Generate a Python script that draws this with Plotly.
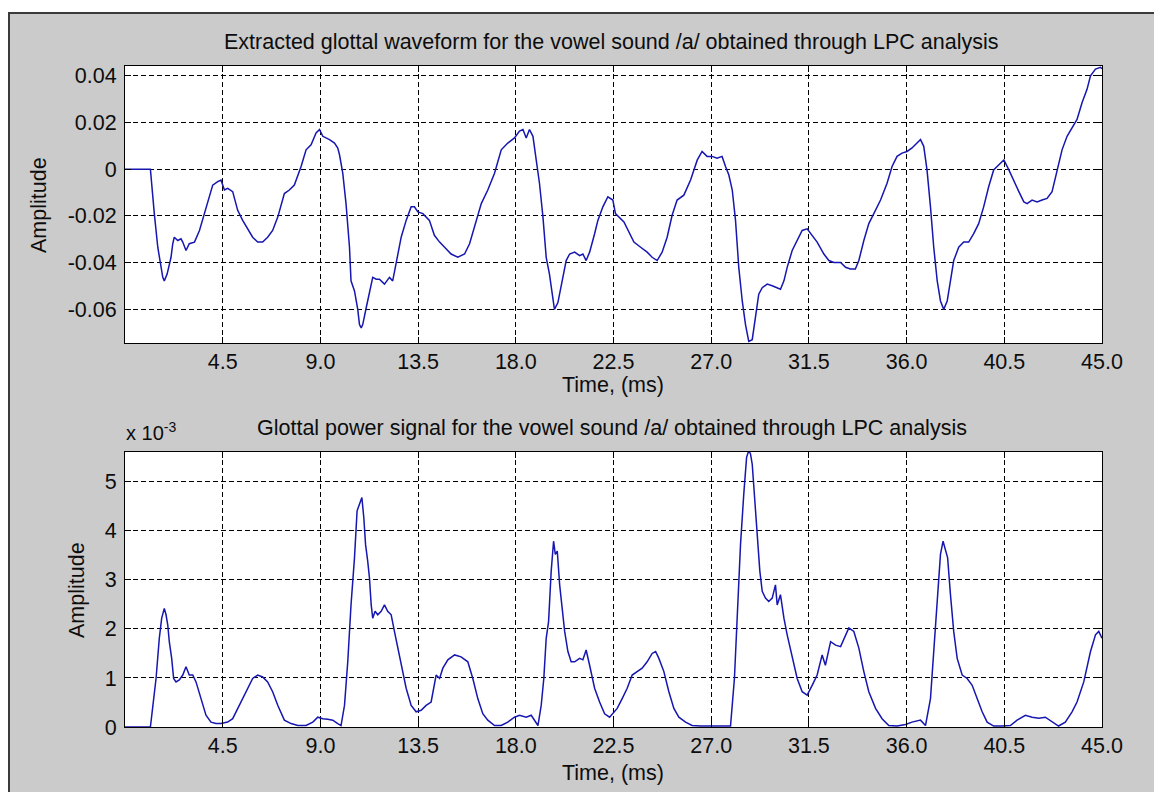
import plotly.graph_objects as go

# ---------------- data ----------------
# Extracted glottal waveform (time in ms, amplitude)
wave_t = [0.0, 1.17, 1.35, 1.51, 1.74, 1.81, 1.94, 2.04, 2.12, 2.20, 2.27, 2.43, 2.58, 2.66, 2.81,
          2.96, 3.20, 3.43, 3.66, 3.81, 4.04, 4.27, 4.42, 4.58, 4.73, 4.96, 5.19, 5.42, 5.65, 5.88,
          6.11, 6.34, 6.57, 6.80, 7.04, 7.34, 7.57, 7.80, 8.11, 8.34, 8.57, 8.80, 8.96, 9.11, 9.26,
          9.42, 9.65, 9.80, 9.88, 10.03, 10.18, 10.34, 10.41, 10.57, 10.72, 10.80, 10.88, 10.95, 11.11,
          11.26, 11.41, 11.57, 11.72, 11.95, 12.18, 12.33, 12.49, 12.72, 12.95, 13.18, 13.33, 13.49,
          13.72, 14.02, 14.25, 14.49, 14.72, 15.02, 15.33, 15.64, 15.87, 16.10, 16.41, 16.71, 17.02,
          17.33, 17.63, 17.94, 18.17, 18.33, 18.48, 18.63, 18.79, 18.94, 19.09, 19.25, 19.40, 19.55,
          19.71, 19.78, 19.94, 20.17, 20.32, 20.48, 20.71, 20.94, 21.09, 21.24, 21.40, 21.63, 21.78,
          22.01, 22.24, 22.47, 22.59, 22.98, 23.21, 23.44, 23.75, 24.05, 24.28, 24.51, 24.74, 24.97,
          25.20, 25.43, 25.74, 26.05, 26.36, 26.58, 26.81, 27.04, 27.27, 27.50, 27.66, 27.81, 27.97,
          28.12, 28.27, 28.43, 28.58, 28.73, 28.89, 29.04, 29.19, 29.35, 29.58, 29.81, 30.04, 30.19,
          30.35, 30.50, 30.73, 30.96, 31.19, 31.42, 31.65, 31.88, 32.19, 32.42, 32.65, 32.96, 33.19,
          33.41, 33.64, 33.80, 34.03, 34.26, 34.49, 34.80, 35.10, 35.33, 35.56, 35.79, 36.02, 36.25,
          36.48, 36.64, 36.79, 36.94, 37.10, 37.25, 37.41, 37.56, 37.71, 37.87, 38.02, 38.17, 38.40,
          38.63, 38.86, 39.09, 39.32, 39.55, 39.78, 40.01, 40.25, 40.48, 40.71, 40.94, 41.17, 41.40,
          41.55, 41.78, 42.01, 42.24, 42.47, 42.70, 42.93, 43.16, 43.39, 43.62, 43.85, 44.08, 44.31,
          44.47, 44.70, 44.93, 45.0]
wave_amp = [0.0, 0.0, -0.0190, -0.0334, -0.0463, -0.0478, -0.0449, -0.0406, -0.0377, -0.0319, -0.0291,
            -0.0305, -0.0298, -0.0312, -0.0348, -0.0319, -0.0312, -0.0262, -0.0190, -0.0132, -0.0068,
            -0.0053, -0.0046, -0.0089, -0.0082, -0.0096, -0.0176, -0.0219, -0.0255, -0.0291, -0.0312,
            -0.0312, -0.0291, -0.0262, -0.0204, -0.0104, -0.0089, -0.0068, 0.0012, 0.0083, 0.0105,
            0.0155, 0.0170, 0.0141, 0.0134, 0.0127, 0.0112, 0.0091, 0.0062, -0.0017, -0.0147, -0.0334,
            -0.0478, -0.0521, -0.0600, -0.0665, -0.0679, -0.0665, -0.0593, -0.0521, -0.0463, -0.0471,
            -0.0471, -0.0492, -0.0463, -0.0478, -0.0406, -0.0291, -0.0219, -0.0161, -0.0161, -0.0183,
            -0.0190, -0.0219, -0.0283, -0.0312, -0.0334, -0.0363, -0.0377, -0.0363, -0.0319, -0.0248,
            -0.0147, -0.0089, -0.0017, 0.0083, 0.0112, 0.0134, 0.0163, 0.0170, 0.0134, 0.0170, 0.0141,
            0.0040, -0.0060, -0.0204, -0.0377, -0.0449, -0.0564, -0.0600, -0.0571, -0.0463, -0.0391,
            -0.0363, -0.0355, -0.0370, -0.0363, -0.0391, -0.0355, -0.0276, -0.0219, -0.0161, -0.0118,
            -0.0132, -0.0190, -0.0226, -0.0269, -0.0312, -0.0334, -0.0355, -0.0377, -0.0391, -0.0355,
            -0.0291, -0.0197, -0.0132, -0.0111, -0.0046, 0.0040, 0.0076, 0.0055, 0.0055, 0.0047, 0.0055,
            0.0012, -0.0024, -0.0089, -0.0219, -0.0420, -0.0564, -0.0665, -0.0737, -0.0730, -0.0636,
            -0.0535, -0.0507, -0.0492, -0.0499, -0.0507, -0.0514, -0.0478, -0.0420, -0.0348, -0.0305,
            -0.0262, -0.0255, -0.0283, -0.0312, -0.0363, -0.0391, -0.0399, -0.0399, -0.0420, -0.0427,
            -0.0427, -0.0391, -0.0305, -0.0233, -0.0190, -0.0132, -0.0060, 0.0012, 0.0055, 0.0069,
            0.0076, 0.0091, 0.0112, 0.0127, 0.0098, -0.0003, -0.0161, -0.0334, -0.0478, -0.0564, -0.0600,
            -0.0564, -0.0478, -0.0391, -0.0334, -0.0312, -0.0312, -0.0276, -0.0233, -0.0161, -0.0075,
            -0.0003, 0.0019, 0.0040, -0.0003, -0.0046, -0.0096, -0.0140, -0.0147, -0.0132, -0.0140,
            -0.0132, -0.0125, -0.0096, -0.0003, 0.0083, 0.0141, 0.0177, 0.0213, 0.0285, 0.0342, 0.0400,
            0.0429, 0.0436, 0.0430]

# Glottal power signal (time in ms, amplitude in units of 1e-3)
power_t = [0.0, 1.17, 1.27, 1.43, 1.58, 1.69, 1.81, 1.89, 1.97, 2.04, 2.15, 2.24, 2.35, 2.50, 2.66,
           2.81, 2.96, 3.12, 3.27, 3.50, 3.73, 3.96, 4.19, 4.42, 4.73, 4.96, 5.19, 5.42, 5.65, 5.88,
           6.11, 6.34, 6.57, 6.80, 7.04, 7.34, 7.65, 7.96, 8.34, 8.65, 8.88, 9.11, 9.34, 9.57, 9.80,
           9.95, 10.11, 10.26, 10.41, 10.57, 10.69, 10.80, 10.91, 11.00, 11.08, 11.18, 11.26, 11.34,
           11.41, 11.52, 11.64, 11.80, 11.95, 12.10, 12.26, 12.41, 12.56, 12.72, 12.95, 13.18, 13.41,
           13.64, 13.87, 14.10, 14.33, 14.49, 14.64, 14.87, 15.18, 15.48, 15.79, 16.02, 16.25, 16.48,
           16.71, 17.02, 17.33, 17.63, 17.94, 18.17, 18.48, 18.71, 18.86, 19.02, 19.17, 19.29, 19.40,
           19.51, 19.63, 19.74, 19.82, 19.91, 20.02, 20.17, 20.25, 20.40, 20.55, 20.71, 20.94, 21.09,
           21.24, 21.40, 21.63, 21.86, 22.09, 22.32, 22.55, 22.67, 22.90, 23.13, 23.36, 23.59, 23.82,
           24.05, 24.28, 24.44, 24.59, 24.82, 25.05, 25.28, 25.51, 25.82, 26.12, 26.51, 26.97, 27.43,
           27.89, 28.07, 28.20, 28.35, 28.50, 28.63, 28.73, 28.81, 28.89, 28.99, 29.12, 29.24, 29.35,
           29.50, 29.65, 29.81, 29.96, 30.04, 30.19, 30.35, 30.50, 30.73, 30.96, 31.19, 31.42, 31.65,
           31.88, 32.11, 32.26, 32.50, 32.73, 32.96, 33.19, 33.34, 33.57, 33.80, 34.03, 34.26, 34.57,
           34.87, 35.18, 35.56, 35.95, 36.25, 36.64, 36.87, 37.10, 37.25, 37.41, 37.56, 37.68, 37.79,
           37.89, 38.02, 38.17, 38.33, 38.56, 38.79, 39.02, 39.25, 39.48, 39.71, 40.01, 40.40, 40.78,
           41.09, 41.47, 41.78, 42.09, 42.39, 42.70, 43.00, 43.31, 43.62, 43.85, 44.16, 44.47, 44.70,
           44.85, 45.0]
power_amp = [0.0, 0.0, 0.38, 0.99, 1.81, 2.22, 2.42, 2.29, 2.08, 1.74, 1.40, 0.99, 0.92, 0.96, 1.06,
             1.23, 1.06, 1.06, 0.92, 0.58, 0.24, 0.10, 0.07, 0.07, 0.10, 0.17, 0.38, 0.58, 0.79, 0.99,
             1.06, 1.02, 0.92, 0.72, 0.44, 0.14, 0.07, 0.03, 0.03, 0.10, 0.20, 0.17, 0.16, 0.14, 0.07,
             0.03, 0.44, 1.33, 2.49, 3.45, 4.41, 4.54, 4.68, 4.27, 3.72, 3.38, 3.04, 2.49, 2.22, 2.36,
             2.29, 2.36, 2.49, 2.36, 2.29, 1.95, 1.61, 1.26, 0.79, 0.44, 0.31, 0.34, 0.44, 0.51, 1.06,
             0.99, 1.20, 1.37, 1.47, 1.43, 1.33, 0.99, 0.58, 0.27, 0.14, 0.03, 0.03, 0.10, 0.20, 0.24,
             0.20, 0.24, 0.14, 0.03, 0.44, 0.99, 1.81, 2.15, 3.18, 3.79, 3.52, 3.59, 2.90, 2.36, 1.95,
             1.54, 1.33, 1.33, 1.40, 1.37, 1.57, 1.26, 0.79, 0.51, 0.27, 0.20, 0.31, 0.38, 0.58, 0.79,
             1.06, 1.13, 1.20, 1.33, 1.50, 1.54, 1.40, 1.13, 0.72, 0.38, 0.20, 0.10, 0.03, 0.02, 0.02,
             0.02, 0.02, 0.99, 2.36, 3.72, 4.75, 5.50, 5.64, 5.57, 5.36, 4.75, 3.86, 3.18, 2.77, 2.63,
             2.56, 2.63, 2.90, 2.49, 2.70, 2.22, 1.88, 1.40, 0.99, 0.72, 0.65, 0.85, 1.06, 1.47, 1.26,
             1.74, 1.67, 1.64, 1.88, 2.02, 1.95, 1.61, 1.13, 0.72, 0.38, 0.17, 0.03, 0.02, 0.05, 0.10,
             0.14, 0.03, 0.58, 1.54, 2.36, 3.52, 3.79, 3.59, 3.45, 2.70, 1.95, 1.40, 1.06, 0.99, 0.85,
             0.58, 0.31, 0.10, 0.02, 0.02, 0.03, 0.14, 0.24, 0.20, 0.18, 0.20, 0.10, 0.02, 0.10, 0.31,
             0.51, 0.92, 1.54, 1.88, 1.95, 1.81]

# Axis ticks
time_ticks = [4.5, 9.0, 13.5, 18.0, 22.5, 27.0, 31.5, 36.0, 40.5, 45.0]
time_tick_text = ["4.5", "9.0", "13.5", "18.0", "22.5", "27.0", "31.5", "36.0", "40.5", "45.0"]
wave_ticks = [-0.06, -0.04, -0.02, 0.0, 0.02, 0.04]
wave_tick_text = ["-0.06", "-0.04", "-0.02", "0", "0.02", "0.04"]
power_ticks = [0, 1, 2, 3, 4, 5]
power_tick_text = ["0", "1", "2", "3", "4", "5"]

titles = ["Extracted glottal waveform for the vowel sound /a/ obtained through LPC analysis",
          "Glottal power signal for the vowel sound /a/ obtained through LPC analysis"]

# ---------------- figure ----------------
W, H = 1154, 792
FONT = "Liberation Sans, Arial, sans-serif"
FONT_SIZE = 21.5
INK = "#0d0d0d"
FIG_BG = "#cbcbcb"
LINE_BLUE = "#1616b0"


def px_x(p):
    return p / W


def px_y(p):
    return 1 - p / H


fig = go.Figure()
fig.add_trace(go.Scatter(x=wave_t, y=wave_amp, mode="lines",
                         line=dict(color=LINE_BLUE, width=1.5), xaxis="x", yaxis="y",
                         showlegend=False, hoverinfo="x+y"))
fig.add_trace(go.Scatter(x=power_t, y=power_amp, mode="lines",
                         line=dict(color=LINE_BLUE, width=1.5), xaxis="x2", yaxis="y2",
                         showlegend=False, hoverinfo="x+y"))

x_dom = [px_x(125), px_x(1102)]
top_dom = [px_y(343), px_y(66)]
bot_dom = [px_y(727), px_y(452)]

axis_common = dict(
    showline=True, linecolor="black", linewidth=1, mirror="ticks",
    ticks="inside", ticklen=6, tickwidth=1, tickcolor="black",
    showgrid=True, gridcolor="black", gridwidth=1, griddash="5px,3px",
    zeroline=False, automargin=False,
    tickfont=dict(family=FONT, size=FONT_SIZE, color=INK),
)

fig.update_layout(
    template="none",
    width=W, height=H,
    margin=dict(l=0, r=0, t=0, b=0, pad=0),
    paper_bgcolor=FIG_BG, plot_bgcolor="white",
    showlegend=False,
    xaxis=dict(axis_common, domain=x_dom, range=[0, 45], tickmode="array",
               tickvals=time_ticks, ticktext=time_tick_text, anchor="y", ticklabelstandoff=-1),
    yaxis=dict(axis_common, domain=top_dom, range=[-0.0744, 0.0442], tickmode="array",
               tickvals=wave_ticks, ticktext=wave_tick_text, anchor="x", ticklabelstandoff=3),
    xaxis2=dict(axis_common, domain=x_dom, range=[0, 45], tickmode="array",
                tickvals=time_ticks, ticktext=time_tick_text, anchor="y2", ticklabelstandoff=-1),
    yaxis2=dict(axis_common, domain=bot_dom, range=[0, 5.61], tickmode="array",
                tickvals=power_ticks, ticktext=power_tick_text, anchor="x2", ticklabelstandoff=3),
)

# window frame: white strips at top/left and a dark border line
fig.add_shape(type="rect", xref="paper", yref="paper", x0=0, x1=1, y0=px_y(12), y1=1,
              fillcolor="white", line_width=0, layer="below")
fig.add_shape(type="rect", xref="paper", yref="paper", x0=0, x1=px_x(8), y0=0, y1=1,
              fillcolor="white", line_width=0, layer="below")
fig.add_shape(type="line", xref="paper", yref="paper", x0=px_x(8), x1=1, y0=px_y(13), y1=px_y(13),
              line=dict(color="#3a3a3a", width=2))
fig.add_shape(type="line", xref="paper", yref="paper", x0=px_x(9), x1=px_x(9), y0=0, y1=px_y(13),
              line=dict(color="#3a3a3a", width=2))

text_font = dict(family=FONT, size=FONT_SIZE, color=INK)
ann = [
    dict(text=titles[0], x=px_x(611), y=px_y(42)),
    dict(text=titles[1], x=px_x(612), y=px_y(428)),
    dict(text="Time, (ms)", x=px_x(613), y=px_y(385)),
    dict(text="Time, (ms)", x=px_x(613), y=px_y(773)),
    dict(text="Amplitude", x=px_x(39), y=px_y(205), textangle=-90),
    dict(text="Amplitude", x=px_x(77), y=px_y(590), textangle=-90),
]
for a in ann:
    fig.add_annotation(xref="paper", yref="paper", xanchor="center", yanchor="middle",
                       showarrow=False, font=text_font, **a)
fig.add_annotation(xref="paper", yref="paper", x=px_x(124), y=px_y(432), xanchor="left",
                   yanchor="middle", showarrow=False,
                   text="x 10<sup>-3</sup>", font=dict(family=FONT, size=20, color=INK))

fig.write_html("out.html")
